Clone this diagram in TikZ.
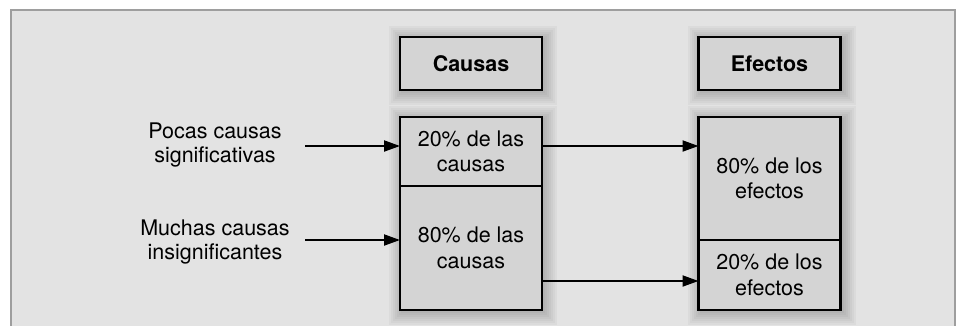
\documentclass[tikz,border=0pt]{standalone}
\usepackage{fontspec}
\setmainfont{TeX Gyre Heros}
\usetikzlibrary{positioning,arrows.meta}
\pgfdeclarelayer{framelayer}
\pgfdeclarelayer{shadowlayer}
\pgfsetlayers{framelayer,shadowlayer,main}
\definecolor{panelgray}{HTML}{E3E3E3}
\definecolor{boxgray}{HTML}{D4D4D4}
\definecolor{framegray}{HTML}{9E9E9E}
\tikzset{
    cell/.style={draw=black, fill=boxgray, line width=2.4pt, minimum width=142pt,
        outer sep=0pt, inner sep=0pt, align=center, font=\fontsize{21.5}{25.5}\selectfont},
    header/.style={cell, minimum height=53pt, font=\fontsize{21.5}{25.5}\selectfont\bfseries},
    sidelabel/.style={align=center, font=\fontsize{21.5}{24}\selectfont},
    link/.style={line width=2pt, -{Triangle[length=16pt,width=11pt]}}
}
% soft shadow behind a box, from its north west to its south east corner
\newcommand{\boxshadow}[2]{%
    \foreach \r in {1,3,...,13} {
        \fill[black, opacity=0.03]
            ([shift={(2-\r,2-\r)}]#1) rectangle ([shift={(2+\r,2+\r)}]#2);
    }
}

\begin{document}
\begin{tikzpicture}[x=1pt,y=-1pt]
    \useasboundingbox (0,0) rectangle (957,325);
    \begin{pgfonlayer}{framelayer}
        \fill[panelgray] (11,10) rectangle (955,340);
        \draw[framegray, line width=2pt] (11,340) -- (11,10) -- (955,10) -- (955,340);
    \end{pgfonlayer}

    % column headers
    \node[header] (causas) at (471,63.5) {Causas};
    \node[header] (efectos) at (769.5,63.5) {Efectos};

    % causes column
    \node[cell, minimum height=69pt] (c20) at (471,151.5) {20\% de las\\causas};
    \node[cell, minimum height=124pt, below=0pt of c20] (c80) {80\% de las\\causas};

    % effects column
    \node[cell, minimum height=123pt] (e80) at (769.5,178.5) {80\% de los\\efectos};
    \node[cell, minimum height=70pt, below=0pt of e80] (e20) {20\% de los\\efectos};

    \begin{pgfonlayer}{shadowlayer}
        \boxshadow{causas.north west}{causas.south east}
        \boxshadow{efectos.north west}{efectos.south east}
        \boxshadow{c20.north west}{c80.south east}
        \boxshadow{e80.north west}{e20.south east}
    \end{pgfonlayer}

    % side labels
    \node[sidelabel] (pocas) at (215,145) {Pocas causas\\significativas};
    \node[sidelabel] (muchas) at (215,241.5) {Muchas causas\\insignificantes};

    % arrows
    \coordinate (p1) at (305,146);
    \coordinate (p2) at (305,240);
    \coordinate (q2) at (542,281);
    \draw[link] (p1) -- (p1 -| c20.west);
    \draw[link] (p2) -- (p2 -| c80.west);
    \draw[link] (c20.east |- p1) -- (e80.west |- p1);
    \draw[link] (c80.east |- q2) -- (e20.west |- q2);
\end{tikzpicture}
\end{document}
